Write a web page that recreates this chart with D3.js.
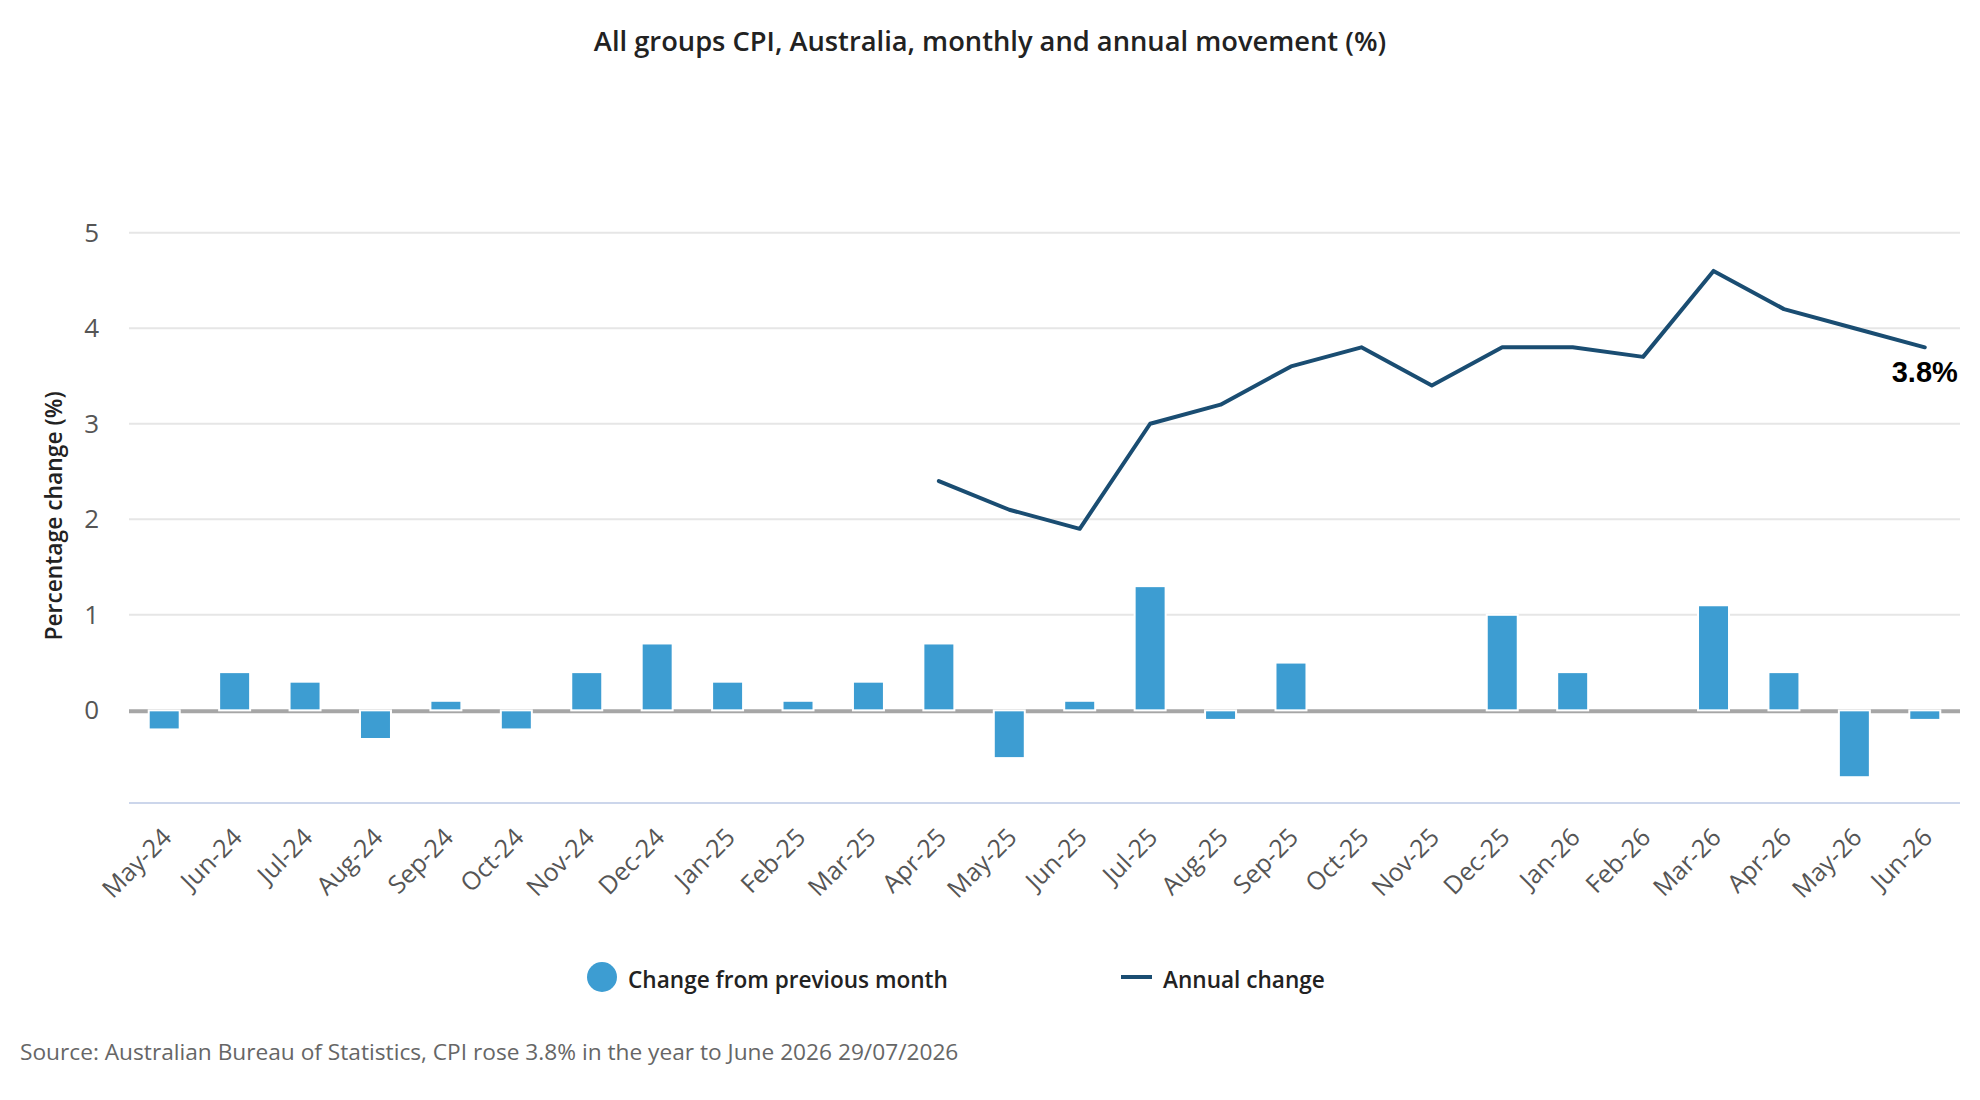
<!DOCTYPE html>
<html>
<head>
<meta charset="utf-8">
<script src="https://cdn.jsdelivr.net/npm/d3@7"></script>
<style>
  body { margin: 0; background: #fff; }
  svg { font-family: "Open Sans", "Noto Sans", sans-serif; }
</style>
</head>
<body>
<svg width="1980" height="1100"></svg>
<script>
var svg = d3.select('svg');

// months on the x axis
var months = ["May-24", "Jun-24", "Jul-24", "Aug-24", "Sep-24", "Oct-24", "Nov-24", "Dec-24",
  "Jan-25", "Feb-25", "Mar-25", "Apr-25", "May-25", "Jun-25", "Jul-25", "Aug-25", "Sep-25",
  "Oct-25", "Nov-25", "Dec-25", "Jan-26", "Feb-26", "Mar-26", "Apr-26", "May-26", "Jun-26"];

// change from previous month (%) - columns
var monthlyChange = [-0.2, 0.4, 0.3, -0.3, 0.1, -0.2, 0.4, 0.7, 0.3, 0.1, 0.3, 0.7, -0.5,
  0.1, 1.3, -0.1, 0.5, 0, 0, 1.0, 0.4, 0, 1.1, 0.4, -0.7, -0.1];

// annual change (%) - line, starts at Apr-25
var annualChange = [null, null, null, null, null, null, null, null, null, null, null,
  2.4, 2.1, 1.9, 3.0, 3.2, 3.6, 3.8, 3.4, 3.8, 3.8, 3.7, 4.6, 4.2, 4.0, 3.8];

var yTicks = [0, 1, 2, 3, 4, 5];

var barColor = '#3d9dd2';
var lineColor = '#1a4d72';

var x = d3.scaleBand()
  .domain(months)
  .range([129, 1960])
  .paddingInner(0.56)
  .paddingOuter(0.28);

var y = d3.scaleLinear()
  .domain([-0.97, 5])
  .range([803, 232.7]);

// title
svg.append('text')
  .attr('x', 990)
  .attr('y', 40)
  .attr('text-anchor', 'middle')
  .attr('dominant-baseline', 'central')
  .style('font-size', '27.3px')
  .style('font-weight', 600)
  .style('fill', '#222')
  .text('All groups CPI, Australia, monthly and annual movement (%)');

// gridlines (zero line drawn separately)
svg.append('g')
  .selectAll('line')
  .data(yTicks.filter(d => d !== 0))
  .join('line')
    .attr('x1', 129)
    .attr('x2', 1960)
    .attr('y1', d => y(d))
    .attr('y2', d => y(d))
    .style('stroke', '#e6e6e6')
    .style('stroke-width', 2);

// y axis labels
var yAxis = d3.axisLeft(y).tickValues(yTicks).tickFormat(d3.format('d')).tickSize(0).tickPadding(0);
svg.append('g')
  .attr('transform', 'translate(99,0)')
  .call(yAxis)
  .call(g => g.select('.domain').remove())
  .selectAll('text')
    .style('font-size', '26px')
    .style('font-family', '"Open Sans", sans-serif')
    .style('fill', '#555');

svg.append('text')
  .attr('transform', 'translate(53,516)rotate(-90)')
  .attr('text-anchor', 'middle')
  .attr('dominant-baseline', 'central')
  .style('font-size', '22.8px')
  .style('font-weight', 600)
  .style('fill', '#222')
  .text('Percentage change (%)');

// zero plot line
svg.append('line')
  .attr('x1', 129)
  .attr('x2', 1960)
  .attr('y1', y(0) + 1)
  .attr('y2', y(0) + 1)
  .style('stroke', '#a6a6a6')
  .style('stroke-width', 4);

// bottom axis
var xAxis = d3.axisBottom(x).tickSize(0).tickPadding(0);
svg.append('g')
  .attr('transform', 'translate(0,803)')
  .call(xAxis)
  .call(g => g.select('.domain')
    .attr('d', 'M129,0H1960')
    .style('stroke', '#ccd6eb')
    .style('stroke-width', 2))
  .selectAll('text')
    .attr('text-anchor', 'end')
    .attr('dy', null)
    .attr('y', null)
    .attr('transform', 'translate(9,36)rotate(-45)')
    .style('font-size', '25px')
    .style('font-family', '"Open Sans", sans-serif')
    .style('fill', '#555');

// monthly change columns
svg.append('g')
  .selectAll('rect')
  .data(months.map((m, i) => ({month: m, value: monthlyChange[i]})).filter(d => d.value !== 0))
  .join('rect')
    .attr('x', d => x(d.month))
    .attr('y', d => y(Math.max(0, d.value)))
    .attr('width', x.bandwidth())
    .attr('height', d => Math.abs(y(d.value) - y(0)))
    .style('fill', barColor)
    .style('stroke', '#fff')
    .style('stroke-width', 2);

// annual change line
var line = d3.line()
  .defined(d => d.value !== null)
  .x(d => x(d.month) + x.bandwidth() / 2)
  .y(d => y(d.value));

var lineData = months.map((m, i) => ({month: m, value: annualChange[i]}));
svg.append('path')
  .datum(lineData)
  .attr('d', line)
  .style('fill', 'none')
  .style('stroke', lineColor)
  .style('stroke-width', 4)
  .style('stroke-linejoin', 'round')
  .style('stroke-linecap', 'round');

// label on the last point
var last = lineData[lineData.length - 1];
svg.append('text')
  .attr('x', x(last.month) + x.bandwidth() / 2)
  .attr('y', y(last.value) + 35)
  .attr('text-anchor', 'middle')
  .style('font-family', '"Liberation Sans", Arial, sans-serif')
  .style('font-size', '29px')
  .style('font-weight', 'bold')
  .style('fill', '#000')
  .text(last.value.toFixed(1) + '%');

// legend
var legend = svg.append('g').attr('transform', 'translate(0,977)');
legend.append('circle')
  .attr('cx', 602)
  .attr('cy', 0)
  .attr('r', 15)
  .style('fill', barColor);
legend.append('text')
  .attr('x', 628)
  .attr('y', 2)
  .attr('dominant-baseline', 'central')
  .style('font-size', '22.6px')
  .style('font-weight', 600)
  .style('fill', '#222')
  .text('Change from previous month');
legend.append('line')
  .attr('x1', 1121)
  .attr('x2', 1152)
  .attr('y1', 0)
  .attr('y2', 0)
  .style('stroke', lineColor)
  .style('stroke-width', 4);
legend.append('text')
  .attr('x', 1163)
  .attr('y', 2)
  .attr('dominant-baseline', 'central')
  .style('font-size', '22.6px')
  .style('font-weight', 600)
  .style('fill', '#222')
  .text('Annual change');

// source note
svg.append('text')
  .attr('x', 20)
  .attr('y', 1051)
  .attr('dominant-baseline', 'central')
  .style('font-size', '22.7px')
  .style('fill', '#666')
  .text('Source: Australian Bureau of Statistics, CPI rose 3.8% in the year to June 2026 29/07/2026');
</script>
</body>
</html>
